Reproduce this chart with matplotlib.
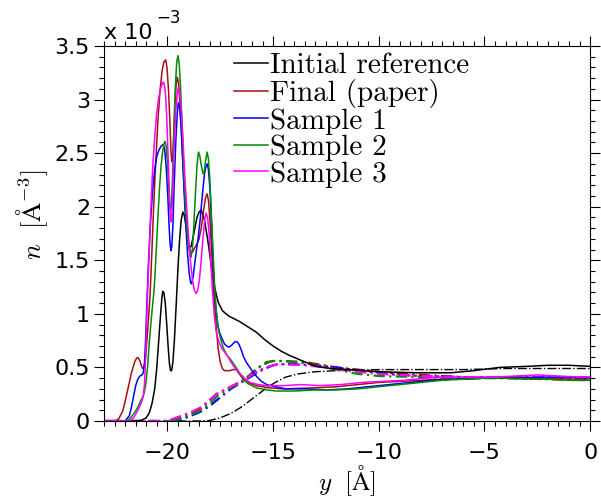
import matplotlib
matplotlib.use("Agg")
import matplotlib.pyplot as plt
from matplotlib.ticker import MultipleLocator, FuncFormatter

# densities in units of 1e-3 A^-3, positions y in Angstrom
init_x = [-23, -21.5, -21.2, -21.0, -20.85, -20.72, -20.6, -20.5, -20.4, -20.32, -20.26, -20.22,
          -20.17, -20.1, -20.03, -19.96, -19.9, -19.85, -19.8, -19.74, -19.67, -19.58, -19.5,
          -19.42, -19.35, -19.27, -19.2, -19.12, -19.03, -18.95, -18.88, -18.8, -18.7, -18.6,
          -18.5, -18.4, -18.25, -18.1, -18.0, -17.88, -17.77, -17.6, -17.4, -17.1, -16.9, -16.6,
          -16.2, -15.8, -15.4, -15.0, -14.6, -14.2, -13.6, -12.95, -12.3, -11.4, -10.0, -8.2,
          -6.6, -5.5, -4.3, -3.0, -2.0, -1.0, 0]
init_n = [0, 0, 0.01, 0.03, 0.08, 0.17, 0.3, 0.5, 0.78, 1.0, 1.15, 1.21,
          1.2, 1.1, 0.9, 0.68, 0.53, 0.47, 0.47, 0.55, 0.75, 1.1, 1.43,
          1.7, 1.87, 1.95, 1.92, 1.82, 1.68, 1.62, 1.63, 1.7, 1.8, 1.9,
          1.95, 1.97, 1.88, 1.7, 1.56, 1.38, 1.25, 1.11, 1.03, 0.98, 0.96, 0.93,
          0.88, 0.83, 0.76, 0.70, 0.65, 0.61, 0.56, 0.51, 0.49, 0.48, 0.46, 0.45,
          0.45, 0.47, 0.50, 0.51, 0.52, 0.52, 0.51]

final_x = [-23, -22.5, -22.3, -22.1, -21.9, -21.7, -21.55, -21.45, -21.38, -21.3, -21.22, -21.17,
           -21.1, -21.03, -20.95, -20.88, -20.82, -20.74, -20.65, -20.55, -20.45, -20.35, -20.25,
           -20.17, -20.08, -20.02, -19.95, -19.88, -19.83, -19.79, -19.75, -19.7, -19.64, -19.58,
           -19.53, -19.47, -19.4, -19.3, -19.2, -19.1, -19.0, -18.9, -18.8, -18.7, -18.6, -18.5,
           -18.4, -18.3, -18.2, -18.12, -18.05, -17.98, -17.9, -17.82, -17.7, -17.6, -17.5,
           -17.4, -17.3, -17.2, -17.05, -16.9, -16.75, -16.6, -16.45, -16.3, -16.05, -15.8,
           -15.2, -14.5, -13.0, -12.0, -11.0, -10.0, -9.0, -8.0, -7.0, -6.0, -5.0, -4.0, -3.0,
           -2.0, -1.0, 0]
final_n = [0, 0, 0.02, 0.1, 0.27, 0.45, 0.55, 0.59, 0.59, 0.56, 0.51, 0.49,
           0.5, 0.6, 0.8, 1.0, 1.17, 1.55, 2.0, 2.42, 2.8, 3.08, 3.27,
           3.35, 3.37, 3.3, 3.1, 2.78, 2.52, 2.42, 2.45, 2.65, 2.95, 3.15,
           3.21, 3.15, 2.95, 2.55, 2.15, 1.85, 1.66, 1.57, 1.58, 1.62, 1.65, 1.7,
           1.8, 1.95, 2.08, 2.12, 2.05, 1.85, 1.55, 1.22, 0.9, 0.68, 0.55,
           0.49, 0.47, 0.47, 0.47, 0.48, 0.48, 0.44, 0.40, 0.37, 0.35, 0.33,
           0.31, 0.30, 0.31, 0.32, 0.34, 0.36, 0.37, 0.38, 0.39, 0.39, 0.40, 0.41, 0.41,
           0.40, 0.39, 0.38]

s1_x = [-23, -22.0, -21.8, -21.7, -21.6, -21.5, -21.4, -21.3, -21.2, -21.14, -21.08, -21.02,
        -20.97, -20.9, -20.8, -20.7, -20.6, -20.5, -20.4, -20.28, -20.19, -20.12, -20.05,
        -19.98, -19.92, -19.87, -19.83, -19.79, -19.74, -19.68, -19.6, -19.53, -19.48, -19.42,
        -19.35, -19.28, -19.2, -19.12, -19.05, -18.97, -18.9, -18.85, -18.78, -18.7, -18.62,
        -18.55, -18.45, -18.35, -18.25, -18.17, -18.12, -18.06, -17.98, -17.9, -17.82, -17.72,
        -17.62, -17.54, -17.42, -17.3, -17.2, -17.1, -17.0, -16.9, -16.8, -16.7, -16.6, -16.5,
        -16.4, -16.27, -16.1, -16.0, -15.8, -15.55, -15.3, -14.9, -14.4, -13.5, -12.5, -11.5,
        -10.5, -9.5, -8.5, -7.5, -6.5, -5.0, -3.5, -2.0, -1.0, 0]
s1_n = [0, 0, 0.05, 0.13, 0.23, 0.33, 0.39, 0.42, 0.43, 0.45, 0.55, 0.8,
        1.1, 1.45, 1.85, 2.15, 2.35, 2.47, 2.53, 2.57, 2.58, 2.52, 2.35,
        2.1, 1.82, 1.65, 1.59, 1.63, 1.82, 2.2, 2.62, 2.88, 2.97, 2.93,
        2.75, 2.45, 2.1, 1.8, 1.57, 1.38, 1.29, 1.28, 1.35, 1.48, 1.6,
        1.7, 1.88, 2.1, 2.3, 2.38, 2.40, 2.35, 2.15, 1.8, 1.4, 1.08,
        0.9, 0.83, 0.77, 0.72, 0.70, 0.69, 0.70, 0.72, 0.74, 0.74, 0.71, 0.66,
        0.6, 0.55, 0.5, 0.47, 0.42, 0.37, 0.34, 0.32, 0.30, 0.30, 0.29, 0.30,
        0.32, 0.34, 0.36, 0.38, 0.39, 0.40, 0.40, 0.41, 0.41, 0.40]

s2_x = [-23, -21.9, -21.7, -21.55, -21.45, -21.35, -21.26, -21.18, -21.1, -21.02, -20.93, -20.85,
        -20.75, -20.63, -20.55, -20.45, -20.37, -20.3, -20.22, -20.16, -20.11, -20.06, -20.0,
        -19.94, -19.89, -19.85, -19.81, -19.76, -19.7, -19.63, -19.56, -19.5, -19.44, -19.38,
        -19.3, -19.22, -19.12, -19.02, -18.93, -18.88, -18.82, -18.75, -18.68, -18.6, -18.53,
        -18.47, -18.4, -18.32, -18.27, -18.2, -18.12, -18.06, -18.0, -17.93, -17.85, -17.77,
        -17.7, -17.6, -17.46, -17.35, -17.2, -17.0, -16.85, -16.75, -16.6, -16.4, -16.2,
        -15.8, -15.3, -14.85, -14.0, -13.0, -12.0, -11.0, -10.0, -9.0, -8.0, -7.0, -6.0,
        -5.0, -4.0, -3.0, -2.0, -1.0, 0]
s2_n = [0, 0, 0.04, 0.08, 0.11, 0.15, 0.19, 0.22, 0.26, 0.35, 0.52, 0.75,
        0.98, 1.22, 1.5, 1.9, 2.18, 2.38, 2.52, 2.59, 2.61, 2.57, 2.42,
        2.2, 2.02, 1.97, 2.02, 2.25, 2.7, 3.1, 3.35, 3.41, 3.33, 3.12,
        2.75, 2.32, 1.92, 1.66, 1.55, 1.53, 1.6, 1.82, 2.1, 2.38, 2.51,
        2.48, 2.39, 2.31, 2.31, 2.42, 2.51, 2.45, 2.28, 1.98, 1.62, 1.28,
        1.05, 0.87, 0.75, 0.68, 0.62, 0.57, 0.53, 0.50, 0.45, 0.39, 0.35,
        0.31, 0.29, 0.28, 0.28, 0.29, 0.29, 0.30, 0.32, 0.34, 0.36, 0.38, 0.39,
        0.40, 0.40, 0.39, 0.39, 0.38, 0.38]

s3_x = [-23, -21.8, -21.6, -21.45, -21.3, -21.2, -21.14, -21.08, -21.02, -20.97, -20.9, -20.8,
        -20.7, -20.6, -20.5, -20.4, -20.3, -20.22, -20.17, -20.1, -20.04, -19.98, -19.92,
        -19.87, -19.83, -19.79, -19.74, -19.67, -19.6, -19.53, -19.48, -19.42, -19.35, -19.27,
        -19.18, -19.08, -19.0, -18.9, -18.8, -18.72, -18.64, -18.56, -18.48, -18.4, -18.32,
        -18.24, -18.17, -18.1, -18.03, -17.95, -17.87, -17.78, -17.68, -17.55, -17.4, -17.2,
        -17.05, -16.9, -16.75, -16.6, -16.35, -16.1, -15.7, -15.3, -14.5, -13.7, -12.8, -11.8,
        -10.8, -9.8, -8.8, -7.8, -6.8, -5.5, -4.5, -3.5, -2.5, -1.5, -0.5, 0]
s3_n = [0, 0, 0.03, 0.08, 0.14, 0.19, 0.23, 0.35, 0.65, 1.0, 1.4, 1.9,
        2.35, 2.65, 2.88, 3.03, 3.12, 3.16, 3.16, 3.08, 2.88, 2.55, 2.2,
        1.95, 1.86, 1.92, 2.18, 2.6, 2.9, 3.06, 3.11, 3.07, 2.93, 2.65,
        2.3, 1.97, 1.72, 1.47, 1.3, 1.22, 1.19, 1.22, 1.33, 1.5, 1.7,
        1.87, 1.94, 1.9, 1.76, 1.5, 1.22, 0.98, 0.82, 0.73, 0.67, 0.62,
        0.57, 0.52, 0.48, 0.45, 0.40, 0.36, 0.34, 0.33, 0.33, 0.34, 0.33, 0.34,
        0.36, 0.37, 0.38, 0.40, 0.41, 0.41, 0.41, 0.42, 0.43, 0.42, 0.41, 0.41]

# second (dash-dot) density profiles
init2_x = [-23, -18.5, -18.0, -17.5, -17.0, -16.5, -16.1, -15.7, -15.3, -14.9, -14.4, -13.8,
           -13.0, -12.0, -10.0, -8.0, -6.0, -4.0, -2.0, 0]
init2_n = [0, 0, 0.005, 0.03, 0.07, 0.13, 0.19, 0.25, 0.31, 0.36, 0.41, 0.44,
           0.46, 0.47, 0.48, 0.48, 0.48, 0.49, 0.49, 0.49]

final2_x = [-23, -20.0, -19.6, -19.2, -18.8, -18.4, -18.0, -17.7, -17.3, -16.9, -16.5, -16.1,
            -15.7, -15.3, -15.0, -14.5, -13.5, -12.9, -12.0, -11.0, -10.0, -9.0, -8.0, -6.0,
            -4.0, -2.0, 0]
final2_n = [0, 0, 0.02, 0.05, 0.08, 0.12, 0.19, 0.25, 0.29, 0.33, 0.37, 0.43,
            0.50, 0.55, 0.56, 0.56, 0.55, 0.53, 0.50, 0.48, 0.46, 0.44, 0.43, 0.41,
            0.40, 0.39, 0.38]

s1b_x = [-23, -19.5, -19.0, -18.5, -18.0, -17.5, -17.0, -16.5, -16.0, -15.5, -15.0, -14.7,
         -14.0, -13.0, -12.0, -11.0, -10.0, -9.0, -8.0, -6.0, -4.0, -2.0, 0]
s1b_n = [0, 0, 0.04, 0.08, 0.14, 0.22, 0.30, 0.36, 0.42, 0.48, 0.52, 0.53,
         0.53, 0.52, 0.50, 0.47, 0.45, 0.43, 0.42, 0.41, 0.41, 0.40, 0.40]

s2b_x = [-23, -19.8, -19.4, -19.0, -18.5, -18.0, -17.6, -17.2, -16.8, -16.4, -16.0, -15.6,
         -15.2, -15.0, -14.5, -13.5, -13.0, -12.0, -11.0, -10.0, -8.0, -6.0, -4.0, -2.0, 0]
s2b_n = [0, 0, 0.02, 0.05, 0.09, 0.16, 0.24, 0.29, 0.33, 0.38, 0.44, 0.51,
         0.55, 0.56, 0.56, 0.54, 0.52, 0.48, 0.44, 0.42, 0.41, 0.40, 0.40, 0.40, 0.40]

s3b_x = [-23, -20.0, -19.6, -19.2, -18.8, -18.4, -18.0, -17.6, -17.2, -16.8, -16.4, -16.0,
         -15.6, -15.2, -14.8, -14.3, -13.5, -12.5, -11.5, -10.0, -8.0, -6.0, -4.0, -2.0, 0]
s3b_n = [0, 0, 0.03, 0.06, 0.09, 0.13, 0.2, 0.26, 0.3, 0.34, 0.38, 0.43,
         0.48, 0.51, 0.53, 0.53, 0.52, 0.50, 0.47, 0.44, 0.42, 0.41, 0.41, 0.41, 0.41]

labels = ["Initial reference", "Final (paper)", "Sample 1", "Sample 2", "Sample 3"]
colors = ["black", "#a50f0f", "#0000ff", "#008a00", "#ff00ff"]

plt.rcParams["mathtext.fontset"] = "cm"
plt.rcParams["font.family"] = "DejaVu Sans"

fig = plt.figure(figsize=(6.01, 4.98), dpi=100)
ax = fig.add_axes([0.173, 0.1546, 0.809, 0.753])

solid = [(init_x, init_n), (final_x, final_n), (s1_x, s1_n), (s2_x, s2_n), (s3_x, s3_n)]
dashed = [(final2_x, final2_n), (s1b_x, s1b_n), (s2b_x, s2b_n), (s3b_x, s3b_n)]

ax.plot(init2_x, init2_n, color="black", lw=1.0, ls="-.")
for (x, n), c in zip(dashed, colors[1:]):
    ax.plot(x, n, color=c, lw=1.6, ls=(0, (5, 2, 1, 2)))
handles = []
for (x, n), c, lab in zip(solid, colors, labels):
    h, = ax.plot(x, n, color=c, lw=1.1, label=lab)
    handles.append(h)

ax.set_xlim(-23, 0)
ax.set_ylim(0, 3.5)
ax.xaxis.set_major_locator(MultipleLocator(5))
ax.xaxis.set_minor_locator(MultipleLocator(0.5))
ax.yaxis.set_major_locator(MultipleLocator(0.5))
ax.yaxis.set_minor_locator(MultipleLocator(0.1))
ax.yaxis.set_major_formatter(FuncFormatter(lambda v, p: f"{v:g}"))
ax.tick_params(which="both", direction="out", top=True, right=True, labelsize=16, width=0.8)
ax.tick_params(which="major", length=7)
ax.tick_params(which="minor", length=3.5)
ax.tick_params(axis="y", pad=3)
ax.tick_params(axis="x", pad=9)

ax.text(0.0, 1.008, "x 10", transform=ax.transAxes, fontsize=16, ha="left", va="bottom")
ax.text(0.108, 1.05, "\u22123", transform=ax.transAxes, fontsize=12, ha="left", va="bottom")

ax.set_xlabel(r"$y\ \ [\mathrm{\AA}]$", fontsize=18)
ax.xaxis.set_label_coords(0.5, -0.112)
ax.set_ylabel(r"$n\ \ [\mathrm{\AA}^{-3}]$", fontsize=19)
ax.yaxis.set_label_coords(-0.111, 0.55)

ax.legend(handles=handles, loc="upper left", bbox_to_anchor=(0.268, 0.982), frameon=False,
          prop={"family": "cmr10", "size": 21}, handlelength=1.15, handletextpad=0.08,
          labelspacing=0.0, borderaxespad=0, borderpad=0)

fig.savefig("out.png", dpi=100)
